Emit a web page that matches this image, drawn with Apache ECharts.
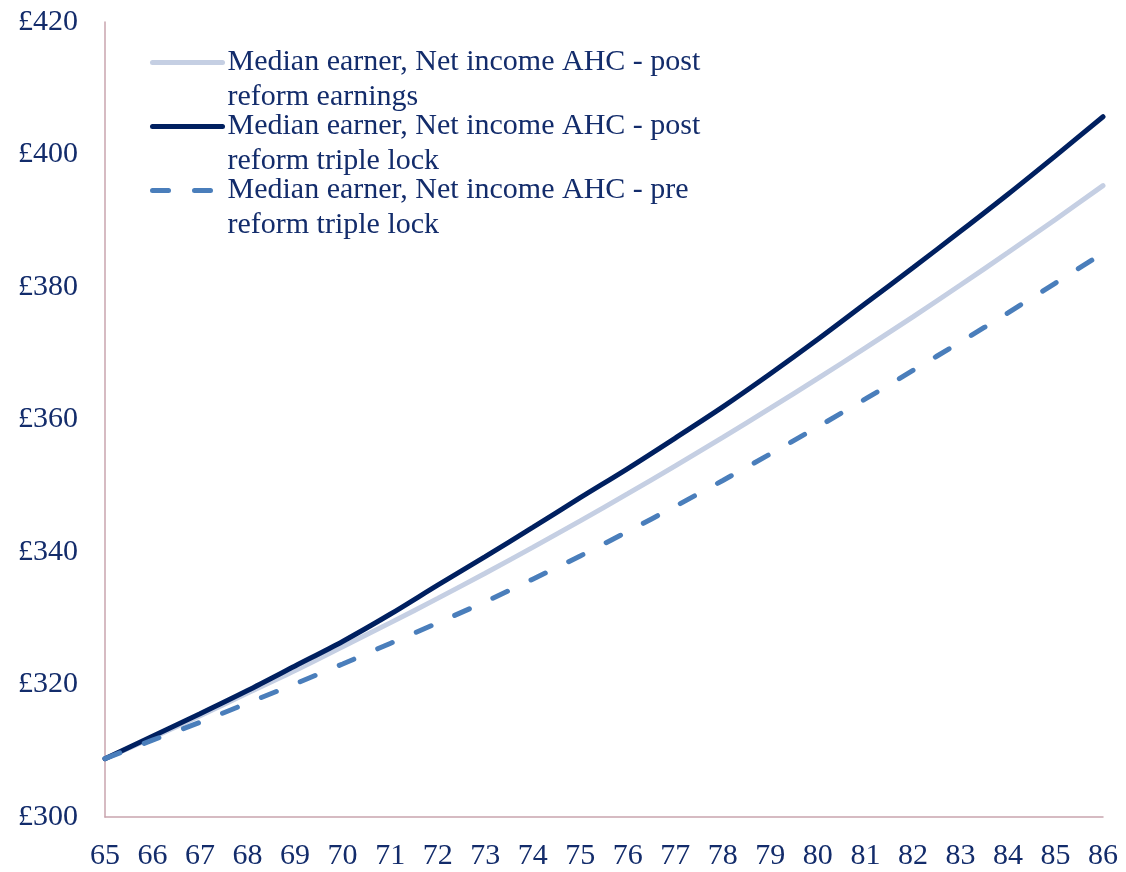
<!DOCTYPE html>
<html>
<head>
<meta charset="utf-8">
<script src="https://cdn.jsdelivr.net/npm/echarts@6/dist/echarts.min.js"></script>
<style>
html,body{margin:0;padding:0;background:#fff;}
#chart{width:1126px;height:872px;}
</style>
</head>
<body>
<div id="chart"></div>
<script>
const ages = ['65','66','67','68','69','70','71','72','73','74','75','76','77','78','79','80','81','82','83','84','85','86'];
const postEarnings = [308.8,312.0,315.3,318.7,322.1,325.7,329.3,333.0,336.8,340.7,344.7,348.8,353.0,357.3,361.7,366.2,370.8,375.5,380.3,385.2,390.2,395.3];
const postTripleLock = [308.8,312.2,315.6,319.1,322.8,326.5,330.6,335.0,339.3,343.7,348.2,352.6,357.2,361.9,366.9,372.1,377.5,382.9,388.4,394.0,399.8,405.7];
const preTripleLock = [308.8,311.6,314.3,317.2,320.1,323.1,326.2,329.3,332.5,335.9,339.4,343.1,346.9,350.8,354.8,358.9,363.1,367.4,371.7,376.1,380.6,385.1];
const seriesNames = [
  'Median earner, Net income AHC - post reform earnings',
  'Median earner, Net income AHC - post reform triple lock',
  'Median earner, Net income AHC - pre reform triple lock'
];
const legendLabels = {
  'Median earner, Net income AHC - post reform earnings': 'Median earner, Net income AHC - post\nreform earnings',
  'Median earner, Net income AHC - post reform triple lock': 'Median earner, Net income AHC - post\nreform triple lock',
  'Median earner, Net income AHC - pre reform triple lock': 'Median earner, Net income AHC - pre\nreform triple lock'
};
const yTicks = {min: 300, max: 420, interval: 20};

const FONT = '"Liberation Serif", "DejaVu Serif", serif';
const TEXT = '#132c6b';

const chart = echarts.init(document.getElementById('chart'), null, {renderer: 'canvas'});
chart.setOption({
  animation: false,
  backgroundColor: '#ffffff',
  grid: {left: 105, right: 23, top: 22, bottom: 55, containLabel: false},
  legend: {
    left: 150,
    top: 10,
    orient: 'vertical',
    padding: 0,
    itemGap: -41,
    itemWidth: 70,
    itemHeight: 6,
    data: seriesNames,
    formatter: function (n) { return '\n' + legendLabels[n]; },
    itemStyle: {opacity: 0},
    lineStyle: {width: 5, cap: 'round'},
    textStyle: {
      fontFamily: FONT,
      fontSize: 30,
      color: TEXT,
      lineHeight: 35
    }
  },
  xAxis: {
    type: 'category',
    data: ages,
    boundaryGap: false,
    axisLine: {show: true, lineStyle: {color: '#c9a5ae', width: 1.5}},
    axisTick: {show: false},
    axisLabel: {fontFamily: FONT, fontSize: 30, color: TEXT, margin: 24, interval: 0},
    splitLine: {show: false}
  },
  yAxis: {
    type: 'value',
    min: yTicks.min,
    max: yTicks.max,
    interval: yTicks.interval,
    axisLine: {show: true, lineStyle: {color: '#c9a5ae', width: 1.5}},
    axisTick: {show: false},
    axisLabel: {fontFamily: FONT, fontSize: 30, color: TEXT, margin: 27, formatter: function (v) { return '£' + v; }},
    splitLine: {show: false}
  },
  series: [
    {
      name: seriesNames[0],
      type: 'line',
      data: postEarnings,
      showSymbol: false,
      symbol: 'none',
      smooth: 0.3,
      z: 2,
      lineStyle: {color: '#c5cfe3', width: 5, cap: 'round'},
      itemStyle: {color: '#c5cfe3'}
    },
    {
      name: seriesNames[1],
      type: 'line',
      data: postTripleLock,
      showSymbol: false,
      symbol: 'none',
      smooth: 0.3,
      z: 3,
      lineStyle: {color: '#002060', width: 5, cap: 'round'},
      itemStyle: {color: '#002060'}
    },
    {
      name: seriesNames[2],
      type: 'line',
      data: preTripleLock,
      showSymbol: false,
      symbol: 'none',
      smooth: 0.3,
      z: 4,
      lineStyle: {color: '#4a7ebb', width: 5, type: [16, 26], cap: 'round'},
      itemStyle: {color: '#4a7ebb'}
    }
  ]
});
</script>
</body>
</html>
